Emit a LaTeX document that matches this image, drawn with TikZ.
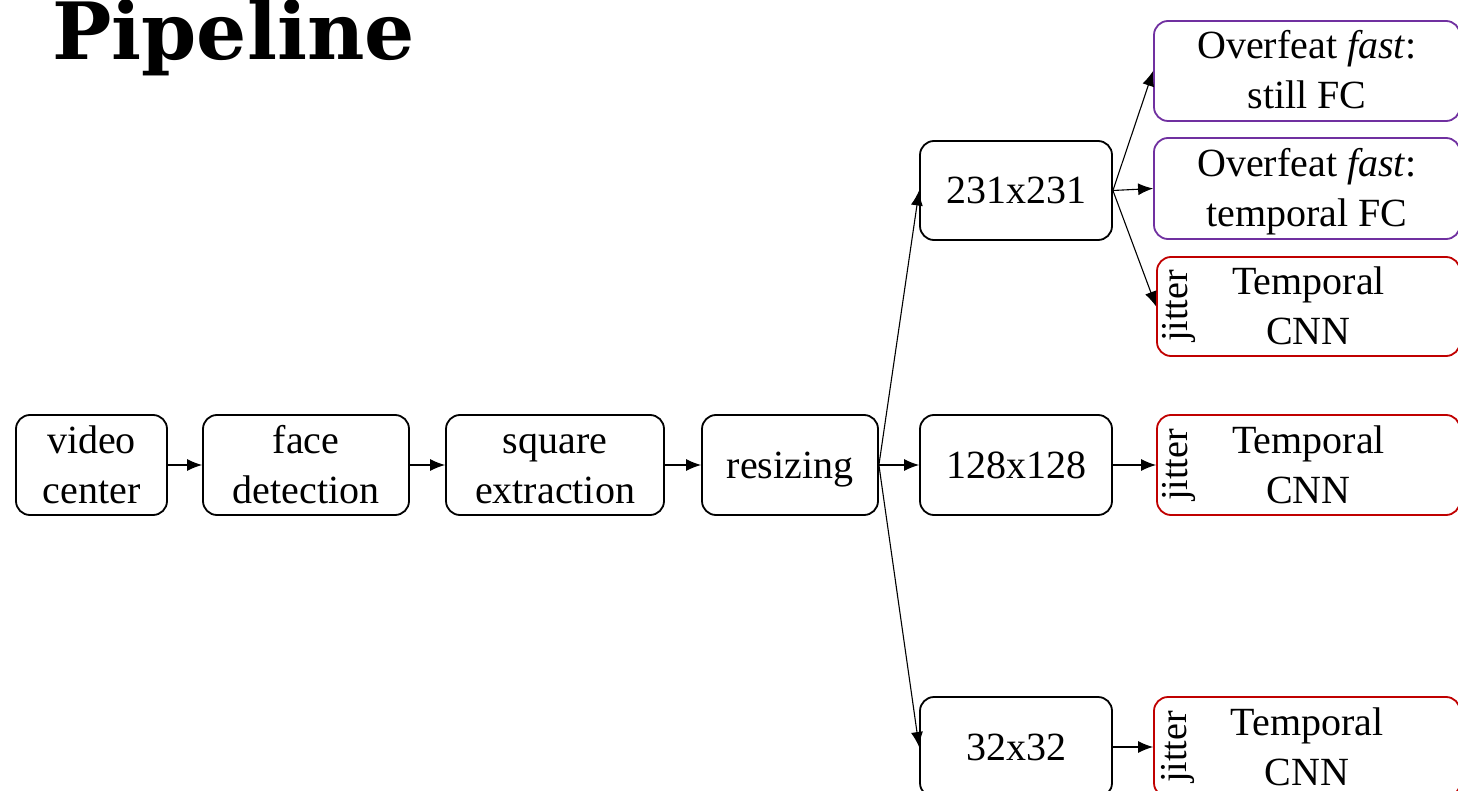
\documentclass[tikz,border=0pt]{standalone}
\usepackage{fontspec}
\setmainfont{Liberation Serif}
\newfontfamily\titlefont{DejaVu Serif}
\usetikzlibrary{arrows.meta}
\definecolor{boxpurple}{RGB}{112,48,160}
\definecolor{boxred}{RGB}{192,0,0}
\newcommand{\mystrut}{\rule[-10pt]{0pt}{46pt}}
\begin{document}
\begin{tikzpicture}[x=1pt,y=-1pt,
  box/.style={draw, line width=1.8pt, rounded corners=14pt, minimum height=100pt,
    align=center, inner sep=0pt, font=\fontsize{40}{50}\selectfont},
  pbox/.style={box, draw=boxpurple, minimum width=306pt},
  rbox/.style={box, draw=boxred, minimum width=303pt},
  jit/.style={rotate=90, inner sep=0pt, font=\fontsize{38}{40}\selectfont},
  arr/.style={line width=1.1pt, -{Latex[length=15pt,width=12pt]}}
]
\useasboundingbox (0,0) rectangle (1458,791);
\node[anchor=base west, inner sep=0pt, font=\titlefont\bfseries\fontsize{79}{84}\selectfont] (title) at (52,60) {Pipeline};

\node[box, minimum width=151pt] (vc) at (91.5,465) {\mystrut video\\\mystrut center};
\node[box, minimum width=206pt] (fd) at (306,465) {\mystrut face\\\mystrut detection};
\node[box, minimum width=218pt] (se) at (555,465) {\mystrut square\\\mystrut extraction};
\node[box, minimum width=176pt] (rs) at (790,465) {\mystrut resizing};

\node[box, minimum width=192pt, minimum height=99pt] (s231) at (1016,190.5) {\mystrut 231x231};
\node[box, minimum width=192pt] (s128) at (1016,465) {\mystrut 128x128};
\node[box, minimum width=192pt] (s32) at (1016,747) {\mystrut 32x32};

\node[pbox] (o1) at (1307,71) {\mystrut Overfeat \textit{fast}:\\\mystrut still FC};
\node[pbox, minimum height=101pt] (o2) at (1307,188.5) {\mystrut Overfeat \textit{fast}:\\\mystrut temporal FC};
\node[rbox, minimum height=99pt] (t1) at (1308.5,306.5) {\mystrut Temporal\\\mystrut CNN};
\node[rbox] (t2) at (1308.5,465) {\mystrut Temporal\\\mystrut CNN};
\node[rbox, minimum width=306pt] (t3) at (1307,747) {\mystrut Temporal\\\mystrut CNN};

\node[jit] (j1) at (1179,306) {jitter};
\node[jit] (j2) at (1179,465) {jitter};
\node[jit] (j3) at (1178,747) {jitter};

\draw[arr] (vc) -- (fd);
\draw[arr] (fd) -- (se);
\draw[arr] (se) -- (rs);
\draw[arr] (rs.east) -- (s231.west);
\draw[arr] (rs.east) -- (s128.west);
\draw[arr] (rs.east) -- (s32.west);
\draw[arr] (s231.east) -- (o1.west);
\draw[arr] (s231.east) -- (o2.west);
\draw[arr] (s231.east) -- (t1.west);
\draw[arr] (s128) -- (t2);
\draw[arr] (s32) -- (t3);
\end{tikzpicture}
\end{document}
